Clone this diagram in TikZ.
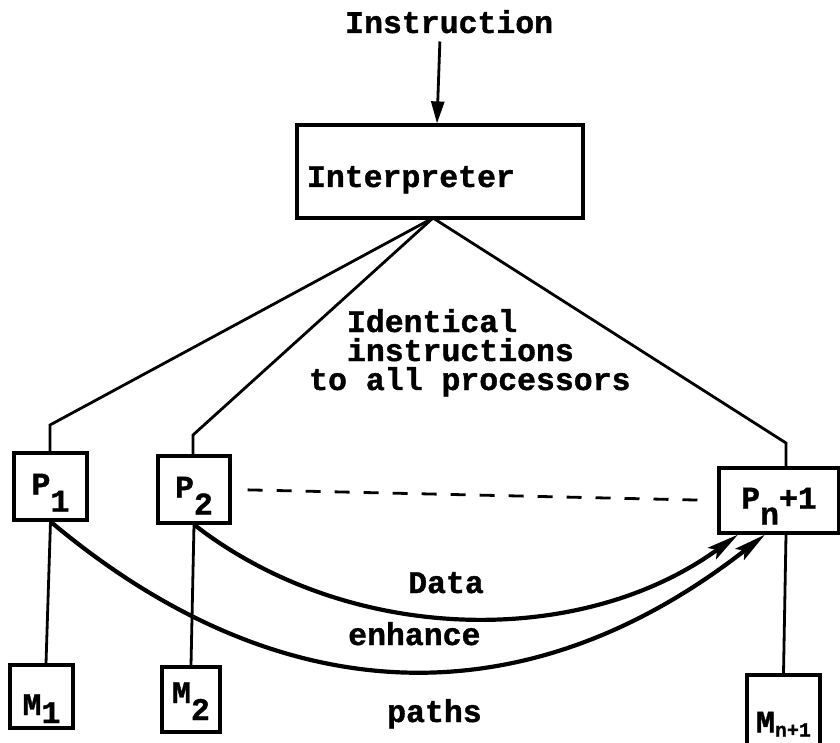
\documentclass[tikz,border=0pt]{standalone}
\usepackage{fontspec}
\setmainfont{Liberation Mono}[BoldFeatures={FakeBold=1.2}]
\usetikzlibrary{arrows.meta}
% lowered index, typewriter style
\newcommand\sublow[2][16pt]{\raisebox{-#1}{#2}}

\begin{document}
\begin{tikzpicture}[x=1pt,y=-1pt,
  every node/.style={font=\fontsize{31.5}{29}\selectfont\bfseries},
  box/.style={draw, line width=3.2pt, inner sep=0pt, line join=miter},
  pbox/.style={box, text height=33pt, text depth=17pt},
  wire/.style={line width=2.8pt},
  flow/.style={line width=4.2pt, -{Stealth[length=32pt,width=14pt,inset=6pt]}},
  lbl/.style={anchor=base west, inner sep=0pt}]
\useasboundingbox (0,0) rectangle (840,743);

% control unit
\node[lbl] (instr) at (345,33) {Instruction};
\node[box, minimum width=286pt, minimum height=93pt, text width=266pt,
      align=left, text height=31pt, text depth=0pt] (interp) at (440,171.5) {Interpreter};

% processors
\node[pbox, minimum width=73pt, minimum height=67pt] (p1) at (50.5,486.5) {P\sublow[17pt]{1}};
\node[pbox, minimum width=72pt, minimum height=67pt] (p2) at (194,489.5) {P\sublow[17pt]{2}};
\node[pbox, minimum width=120pt, minimum height=65pt] (pn) at (779,500.5) {P\sublow{n}+1};

% memories
\node[box, minimum width=63pt, minimum height=63pt, text height=37pt, text depth=0pt]
  (m1) at (41.5,696.5) {M\sublow[8pt]{1}};
\node[box, minimum width=58pt, minimum height=65pt, text height=24pt, text depth=17pt]
  (m2) at (191,699.5) {M\sublow[17pt]{2}};
\node[box, minimum width=73pt, minimum height=73pt, text height=42pt, text depth=0pt]
  (mn) at (783.5,711.5) {M\sublow[4pt]{\fontsize{20}{20}\selectfont n+1}};

% broadcast lines
\coordinate (apex) at (433,218);
\coordinate (k1) at (50,425);
\coordinate (k2) at (193,435);
\coordinate (kn) at (786,443);
\draw[wire, -{Triangle[length=22pt,width=13pt]}, shorten <=8pt]
  ([xshift=-9pt]instr.south) -- ([xshift=-3pt]interp.north);
\draw[wire] (apex) -- (k1) -- (k1 |- p1.north);
\draw[wire] (apex) -- (k2) -- (k2 |- p2.north);
\draw[wire] (apex) -- (kn) -- (kn |- pn.north);

% processor to memory
\draw[wire] (p1.south) -- ([xshift=4.5pt]m1.north);
\draw[wire] (p2.south) -- (m2.north);
\draw[wire] ([xshift=7pt]pn.south) -- (mn.north);

% chain of processors
\draw[wire, dash pattern=on 15pt off 14pt, shorten <=16pt, shorten >=16pt] (p2.east) -- (pn.west);

% data paths
\draw[flow] (p2.south) .. controls +(154,120) and +(-158,115) .. ([xshift=-41pt]pn.south);
\draw[flow] (p1.south) .. controls +(231,194) and +(-238,186) .. ([xshift=-14pt]pn.south);

% labels (base anchor of a multi-line node is its last line)
\node[lbl, align=left] (ident) at (309,390)
  {\hphantom{to}Identical\\\hphantom{to}instructions\\to all processors};
\node[lbl] (data) at (408,593) {Data};
\node[lbl] (enh) at (348,645) {enhance};
\node[lbl] (paths) at (387,722) {paths};
\end{tikzpicture}
\end{document}
